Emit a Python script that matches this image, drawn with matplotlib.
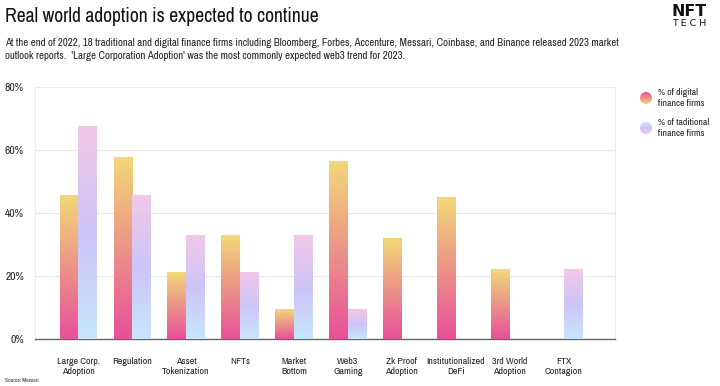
import matplotlib
matplotlib.use("Agg")
import matplotlib.pyplot as plt
import numpy as np
from matplotlib.colors import LinearSegmentedColormap
from matplotlib import font_manager

categories = ["Large Corp.\nAdoption", "Regulation", "Asset\nTokenization", "NFTs",
              "Market\nBottom", "Web3\nGaming", "Zk Proof\nAdoption",
              "Institutionalized\nDeFi", "3rd World\nAdoption", "FTX\nContagion"]
digital = [45.5, 57.5, 21, 33, 9.5, 56.5, 32, 45, 22, 0]
traditional = [67.5, 45.5, 33, 21, 33, 9.5, 0, 0, 0, 22]
yticks = [0, 20, 40, 60, 80]
ytick_labels = ["0%", "20%", "40%", "60%", "80%"]

# pick a narrow family if one exists
fam, stretch = "Roboto", "normal"
for f in font_manager.fontManager.ttflist:
    if "Narrow" in f.name or "Condensed" in f.name:
        fam, stretch = f.name, "normal"
        break
else:
    for f in font_manager.fontManager.ttflist:
        if f.stretch in ("condensed", "semi-condensed") and f.name in ("DejaVu Sans", "Liberation Sans", "Roboto", "Open Sans"):
            fam, stretch = f.name, f.stretch
            break
plt.rcParams['font.family'] = [fam, 'DejaVu Sans']
plt.rcParams['font.stretch'] = stretch

W, H = 720, 386
fig = plt.figure(figsize=(W/100, H/100), dpi=100)
fig.patch.set_facecolor("white")
ax = fig.add_axes([35/W, (H-339)/H, (615-35)/W, (339-87)/H])

cm_dig = LinearSegmentedColormap.from_list("dig", ["#e8509a", "#ec9488", "#f2d878"])
cm_trad = LinearSegmentedColormap.from_list("trad", ["#c8e6fd", "#cdc4f8", "#f2c8e8"])
grad = np.linspace(0, 1, 256).reshape(-1, 1)

x = np.arange(len(categories))
bw = 0.345
for i in range(len(categories)):
    for val, off, cm in ((digital[i], -bw/2, cm_dig), (traditional[i], bw/2, cm_trad)):
        if val <= 0:
            continue
        ax.imshow(grad, cmap=cm, origin="lower", aspect="auto",
                  extent=(x[i]+off-bw/2, x[i]+off+bw/2, 0, val), zorder=3,
                  interpolation="bilinear")

ax.set_xlim(-0.8, 9.95)
ax.set_ylim(0, 80)
ax.set_yticks(yticks)
ax.set_yticklabels(ytick_labels)
ax.set_xticks(x)
ax.set_xticklabels(categories, linespacing=1.15)
ax.tick_params(axis="both", length=0, colors="#222222")
ax.tick_params(axis="x", pad=13, labelsize=7)
ax.tick_params(axis="y", pad=8, labelsize=8)
ax.grid(axis="y", color="#e8e8e8", linewidth=0.8, zorder=0)
ax.set_axisbelow(True)
for s in ("left", "right", "top"):
    ax.spines[s].set_color("#ececec")
    ax.spines[s].set_linewidth(0.8)
ax.spines["bottom"].set_color("#666666")
ax.spines["bottom"].set_linewidth(1.0)

t_title = fig.text(5/W, 1-17/H, "Real world adoption is expected to continue", fontsize=13.5,
                   va="center", ha="left", color="#111111")
t_s1 = fig.text(5/W, 1-43/H,
                "At the end of 2022, 18 traditional and digital finance firms including Bloomberg, Forbes, Accenture, Messari, Coinbase, and Binance released 2023 market",
                fontsize=7.6, va="center", ha="left", color="#222222")
t_s2 = fig.text(5/W, 1-56/H,
                "outlook reports.  'Large Corporation Adoption' was the most commonly expected web3 trend for 2023.",
                fontsize=7.6, va="center", ha="left", color="#222222")
t_nft = fig.text(689.5/W, 1-11/H, "NFT", fontsize=11, fontweight="bold", va="center", ha="center",
                 color="#111111", family="DejaVu Sans")
t_tech = fig.text(689.5/W, 1-23.5/H, "T E C H", fontsize=5.5, va="center", ha="center", color="#111111",
                  family="DejaVu Sans")
t_src = fig.text(5/W, 1-381/H, "Source: Messari", fontsize=4.5, va="center", ha="left", color="#333333")

# legend
lg = fig.add_axes([0, 0, 1, 1], facecolor="none")
lg.set_xlim(0, W); lg.set_ylim(H, 0); lg.axis("off")
leg_texts = []
for cy, cm, txt in ((98, cm_dig, "% of digital\nfinance firms"), (128, cm_trad, "% of taditional\nfinance firms")):
    r = 6
    im = lg.imshow(grad, cmap=cm, origin="upper", aspect="auto",
                   extent=(646-r, 646+r, cy+r, cy-r), interpolation="bilinear")
    circ = plt.Circle((646, cy), r, transform=lg.transData)
    im.set_clip_path(circ)
    leg_texts.append(lg.text(658, cy, txt, fontsize=7.3, va="center", ha="left",
                             color="#222222", linespacing=1.2))
lg.set_xlim(0, W); lg.set_ylim(H, 0)

# fit text sizes to the reference widths
fig.canvas.draw()
rend = fig.canvas.get_renderer()
def fit(t, w):
    bb = t.get_window_extent(rend)
    t.set_fontsize(t.get_fontsize() * w / bb.width)
fit(t_title, 315)
fit(t_s1, 607)
t_s2.set_fontsize(t_s1.get_fontsize())
fit(t_src, 34)
fit(t_nft, 35)
fit(t_tech, 34)
fit(leg_texts[1], 51)
leg_texts[0].set_fontsize(leg_texts[1].get_fontsize())
xl = ax.get_xticklabels()
bb = xl[7].get_window_extent(rend)
xs = xl[7].get_fontsize() * 58 / bb.width
yl = ax.get_yticklabels()
bb = yl[-1].get_window_extent(rend)
ys = yl[-1].get_fontsize() * 19 / bb.width
ax.tick_params(axis="x", labelsize=xs)
ax.tick_params(axis="y", labelsize=ys)

fig.savefig("out.png", dpi=100, facecolor="white")
